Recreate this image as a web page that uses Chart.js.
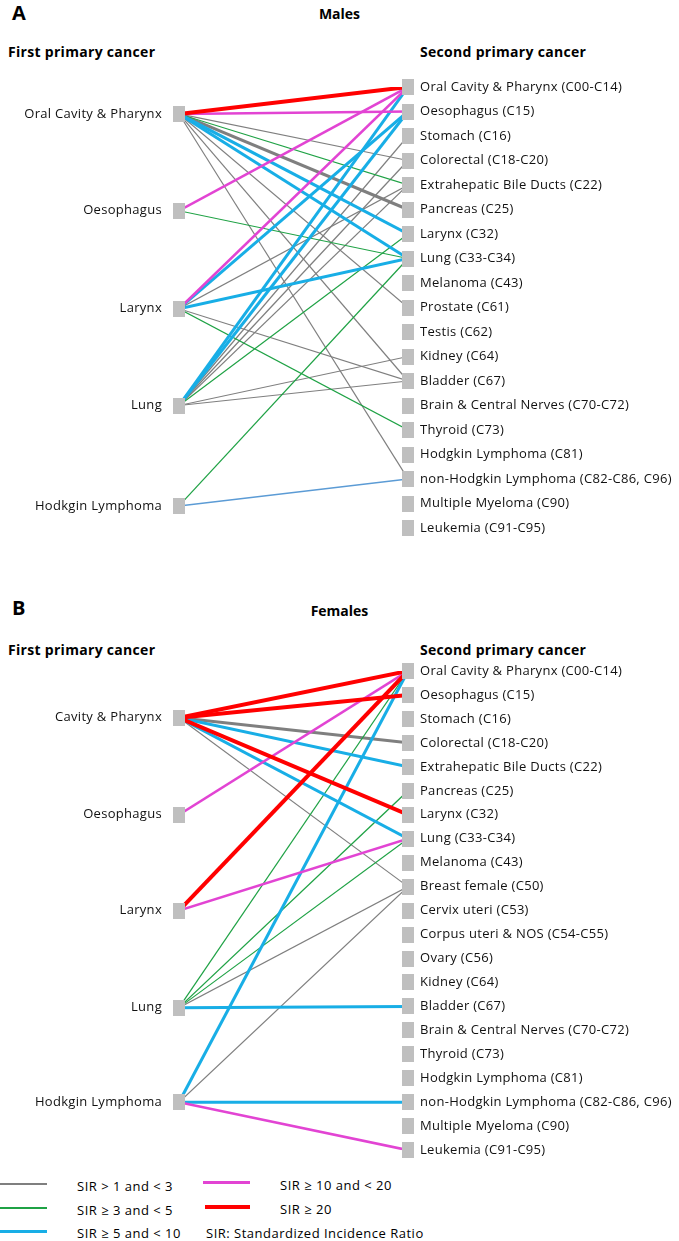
<!DOCTYPE html>
<html>
<head>
<meta charset="utf-8">
<script src="https://cdn.jsdelivr.net/npm/chart.js@4.4.1/dist/chart.umd.min.js"></script>
<style>
  body { margin: 0; background: #fff; font-family: 'Open Sans', sans-serif; color: #000; }
  #page { position: relative; width: 679px; height: 1241px; overflow: hidden; }
  .abs { position: absolute; white-space: nowrap; line-height: 20px; }
  .letter { font-weight: bold; font-size: 20px; }
  .sex { font-weight: bold; font-size: 14px; width: 679px; text-align: center; left: 0; }
  .head { font-weight: bold; font-size: 14px; letter-spacing: 0.3px; }
  .leg { font-size: 13px; letter-spacing: 0.5px; }
  .sw { position: absolute; }
  canvas { position: absolute; left: 0; }
</style>
</head>
<body>
<div id="page">
  <div class="abs letter" style="left:12px; top:3px;">A</div>
  <div class="abs sex" style="top:4px;">Males</div>
  <div class="abs head" style="left:8px; top:42px;">First primary cancer</div>
  <div class="abs head" style="left:420px; top:42px;">Second primary cancer</div>
  <canvas id="chartA" width="679" height="560" style="top:0px;"></canvas>

  <div class="abs letter" style="left:12px; top:598px;">B</div>
  <div class="abs sex" style="top:601px;">Females</div>
  <div class="abs head" style="left:8px; top:640px;">First primary cancer</div>
  <div class="abs head" style="left:420px; top:640px;">Second primary cancer</div>
  <canvas id="chartB" width="679" height="585" style="top:590px;"></canvas>

  <div class="sw" style="left:0; top:1183px; width:47px; height:1.5px; background:#7f7f7f;"></div>
  <div class="sw" style="left:0; top:1207px; width:47px; height:1.5px; background:#1fa245;"></div>
  <div class="sw" style="left:0; top:1230px; width:47px; height:3px; background:#18aee6;"></div>
  <div class="sw" style="left:203px; top:1181px; width:47px; height:3px; background:#e244d3;"></div>
  <div class="sw" style="left:205px; top:1205px; width:45px; height:4px; background:#ff0000;"></div>
  <div class="abs leg" style="left:77px; top:1176px;">SIR &gt; 1 and &lt; 3</div>
  <div class="abs leg" style="left:77px; top:1200px;">SIR ≥ 3 and &lt; 5</div>
  <div class="abs leg" style="left:77px; top:1223px;">SIR ≥ 5 and &lt; 10</div>
  <div class="abs leg" style="left:280px; top:1175px;">SIR ≥ 10 and &lt; 20</div>
  <div class="abs leg" style="left:280px; top:1199px;">SIR ≥ 20</div>
  <div class="abs leg" style="left:206px; top:1223px;">SIR: Standardized Incidence Ratio</div>
</div>

<script>
// ---- data: males ----
const firstM = ['Oral Cavity & Pharynx', 'Oesophagus', 'Larynx', 'Lung', 'Hodkgin Lymphoma'];
// where each first cancer sits along the list of second cancers
const firstPosM = [1.1, 5.05, 9.05, 13.0, 17.1];
const secondM = [
  'Oral Cavity & Pharynx (C00-C14)', 'Oesophagus (C15)', 'Stomach (C16)', 'Colorectal (C18-C20)',
  'Extrahepatic Bile Ducts (C22)', 'Pancreas (C25)', 'Larynx (C32)', 'Lung (C33-C34)',
  'Melanoma (C43)', 'Prostate (C61)', 'Testis (C62)', 'Kidney (C64)', 'Bladder (C67)',
  'Brain & Central Nerves (C70-C72)', 'Thyroid (C73)', 'Hodgkin Lymphoma (C81)',
  'non-Hodgkin Lymphoma (C82-C86, C96)', 'Multiple Myeloma (C90)', 'Leukemia (C91-C95)'
];
// [first cancer index, second cancer index, SIR class]
const linksM = [
  [0, 0, 'sir20'], [0, 1, 'sir10'], [0, 3, 'sir1'], [0, 4, 'sir3'], [0, 5, 'sir1x'],
  [0, 6, 'sir5'], [0, 7, 'sir5'], [0, 9, 'sir1'], [0, 12, 'sir1'], [0, 16, 'sir1'],
  [1, 0, 'sir10'], [1, 7, 'sir3'],
  [2, 0, 'sir10'], [2, 1, 'sir5'], [2, 4, 'sir1'], [2, 7, 'sir5'], [2, 12, 'sir1'], [2, 14, 'sir3'],
  [3, 0, 'sir5'], [3, 1, 'sir5'], [3, 1, 'sir3'], [3, 2, 'sir1'], [3, 3, 'sir1'], [3, 4, 'sir1'],
  [3, 6, 'sir3'], [3, 11, 'sir1'], [3, 12, 'sir1'],
  [4, 7, 'sir3'], [4, 16, 'sir5t']
];

// ---- data: females ----
const firstF = ['Cavity & Pharynx', 'Oesophagus', 'Larynx', 'Lung', 'Hodkgin Lymphoma'];
const firstPosF = [1.95, 6.0, 10.0, 14.05, 18.0];
const secondF = [
  'Oral Cavity & Pharynx (C00-C14)', 'Oesophagus (C15)', 'Stomach (C16)', 'Colorectal (C18-C20)',
  'Extrahepatic Bile Ducts (C22)', 'Pancreas (C25)', 'Larynx (C32)', 'Lung (C33-C34)',
  'Melanoma (C43)', 'Breast female (C50)', 'Cervix uteri (C53)', 'Corpus uteri & NOS (C54-C55)',
  'Ovary (C56)', 'Kidney (C64)', 'Bladder (C67)', 'Brain & Central Nerves (C70-C72)',
  'Thyroid (C73)', 'Hodgkin Lymphoma (C81)', 'non-Hodgkin Lymphoma (C82-C86, C96)',
  'Multiple Myeloma (C90)', 'Leukemia (C91-C95)'
];
const linksF = [
  [0, 0, 'sir20'], [0, 1, 'sir20'], [0, 3, 'sir1x'], [0, 4, 'sir5'], [0, 6, 'sir20'],
  [0, 7, 'sir5'], [0, 9, 'sir1'],
  [1, 0, 'sir10'],
  [2, 0, 'sir20'], [2, 7, 'sir10'],
  [3, 0, 'sir3'], [3, 5, 'sir3'], [3, 7, 'sir3'], [3, 9, 'sir1'], [3, 14, 'sir5'],
  [4, 0, 'sir5'], [4, 9, 'sir1'], [4, 18, 'sir5'], [4, 20, 'sir10']
];

// line look per SIR class
const lineStyle = {
  sir1:  { color: '#7f7f7f', width: 1.2, order: 6 },
  sir1x: { color: '#7f7f7f', width: 3, order: 5 },
  sir3:  { color: '#1fa245', width: 1.2, order: 4 },
  sir5:  { color: '#18aee6', width: 3, order: 3 },
  sir5t: { color: '#5b9bd5', width: 1.5, order: 3 },
  sir10: { color: '#e244d3', width: 2.6, order: 2 },
  sir20: { color: '#ff0000', width: 4, order: 1 }
};

Chart.defaults.font.family = "'Open Sans', sans-serif";

// a little letter spacing, like the original labels
const spacing = {
  id: 'spacing',
  beforeDraw(chart) { chart.ctx.letterSpacing = '0.3px'; }
};

// grey node box
const box = document.createElement('canvas');
box.width = 12;
box.height = 16;
const bctx = box.getContext('2d');
bctx.fillStyle = '#bfbfbf';
bctx.fillRect(0, 0, 12, 16);

function buildChart(id, first, firstPos, second, links, padTop, padBottom) {
  const datasets = links.map(function(l) {
    const st = lineStyle[l[2]];
    return {
      type: 'scatter',
      data: [{ x: 0, y: firstPos[l[0]] }, { x: 1, y: l[1] }],
      showLine: true,
      borderColor: st.color,
      borderWidth: st.width,
      pointRadius: 0,
      tension: 0,
      order: st.order,
      yAxisID: 'y'
    };
  });

  const nodes = firstPos.map(p => ({ x: 0, y: p }))
    .concat(second.map((s, i) => ({ x: 1, y: i })));
  datasets.push({
    type: 'scatter',
    data: nodes,
    pointStyle: box,
    pointRadius: 6,
    order: 0,
    clip: false,
    yAxisID: 'y'
  });

  const maxY = second.length - 1;
  const tickFont = { size: 13 };

  new Chart(document.getElementById(id), {
    type: 'scatter',
    data: { datasets: datasets },
    plugins: [spacing],
    options: {
      responsive: false,
      animation: false,
      events: [],
      layout: { padding: { top: padTop, bottom: padBottom, left: 0, right: 0 } },
      plugins: { legend: { display: false }, tooltip: { enabled: false } },
      scales: {
        x: { type: 'linear', min: 0, max: 1, display: false },
        y: {
          type: 'linear', position: 'left', min: 0, max: maxY, reverse: true,
          grid: { display: false, drawTicks: false }, border: { display: false },
          afterFit: function(axis) { axis.width = 179; },
          afterBuildTicks: function(axis) { axis.ticks = firstPos.map(v => ({ value: v })); },
          ticks: {
            autoSkip: false, padding: 17, color: '#111', font: tickFont,
            callback: function(v) {
              const k = firstPos.indexOf(v);
              return k >= 0 ? first[k] : '';
            }
          }
        },
        y2: {
          type: 'linear', position: 'right', min: 0, max: maxY, reverse: true,
          grid: { display: false, drawTicks: false }, border: { display: false },
          afterFit: function(axis) { axis.width = 679 - 408; },
          ticks: {
            stepSize: 1, autoSkip: false, padding: 12, color: '#111', font: tickFont,
            callback: function(v) { return second[v] || ''; }
          }
        }
      }
    }
  });
}

buildChart('chartA', firstM, firstPosM, secondM, linksM, 87, 560 - 528);
buildChart('chartB', firstF, firstPosF, secondF, linksF, 81, 585 - 568);
</script>
</body>
</html>
